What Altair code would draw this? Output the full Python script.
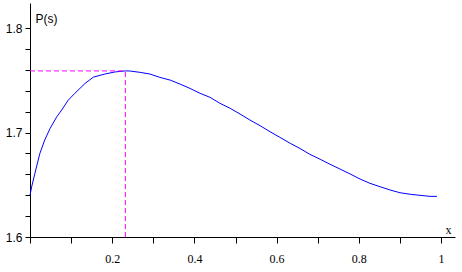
import altair as alt
import pandas as pd

# curve P(s)
xs = [0.0, 0.004, 0.012, 0.024, 0.036, 0.049, 0.065, 0.077, 0.093, 0.109, 0.134, 0.154,
      0.182, 0.207, 0.232, 0.243, 0.268, 0.292, 0.316, 0.341, 0.365, 0.389, 0.414, 0.438,
      0.462, 0.487, 0.511, 0.535, 0.560, 0.584, 0.608, 0.633, 0.657, 0.681, 0.706, 0.730,
      0.754, 0.779, 0.803, 0.827, 0.852, 0.876, 0.900, 0.925, 0.949, 0.973, 0.990]
ps = [1.640, 1.648, 1.661, 1.680, 1.693, 1.704, 1.715, 1.7215, 1.731, 1.7375, 1.747, 1.753,
      1.756, 1.758, 1.759, 1.7589, 1.7576, 1.756, 1.7528, 1.7502, 1.7464, 1.7423, 1.7375, 1.7337,
      1.728, 1.7232, 1.7177, 1.712, 1.7065, 1.7008, 1.6954, 1.6897, 1.6847, 1.6791, 1.6744, 1.6696,
      1.6651, 1.6603, 1.6555, 1.6514, 1.6481, 1.6450, 1.6424, 1.6409, 1.6399, 1.6389, 1.6389]

peak_x = [0.232]
peak_p = [1.759]
base_p = [1.6]
start_x = [0.0]

x_ticks = [0.0, 0.1, 0.2, 0.3, 0.4, 0.5, 0.6, 0.7, 0.8, 0.9, 1.0]
y_ticks = [1.6, 1.62, 1.64, 1.66, 1.68, 1.7, 1.72, 1.74, 1.76, 1.78, 1.8]

curve = pd.DataFrame({"x": xs, "p": ps})
peak = pd.DataFrame({"x0": start_x, "x": peak_x, "p": peak_p, "p0": base_p})

xscale = alt.Scale(domain=[0, 1.034], nice=False, zero=False)
yscale = alt.Scale(domain=[1.6, 1.824], nice=False, zero=False)

xaxis = alt.Axis(
    values=x_ticks,
    labelExpr="(datum.value > 0 && test(regexp('[02468]$'), format(datum.value, '.1f'))) ? format(datum.value, '~g') : ''",
    grid=False, domainColor="black", tickColor="black", tickSize=6, tickWidth=1,
    domainWidth=1, labelFont="Liberation Serif", labelFontSize=12, labelColor="black",
    labelPadding=10, labelOverlap=False, labelBound=False, labelFlush=False,
    title="x", titleFont="Liberation Serif", titleFontSize=12, titleFontWeight="normal",
    titleColor="black", titleX=418, titleY=-4, titleAlign="center", titleBaseline="alphabetic",
)
yaxis = alt.Axis(
    values=y_ticks,
    labelExpr="test(regexp('0$'), format(datum.value, '.2f')) ? format(datum.value, '.1f') : ''",
    grid=False, domainColor="black", tickColor="black", tickSize=5, tickWidth=1,
    domainWidth=1, labelFont="Liberation Sans", labelFontSize=12, labelColor="black",
    labelPadding=3, labelOverlap=False, labelBound=False, labelFlush=False,
    title="P(s)", titleFont="Liberation Sans", titleFontSize=12, titleFontWeight="normal",
    titleColor="black", titleAngle=0, titleX=5, titleY=19, titleAlign="left",
    titleBaseline="alphabetic",
)

line = alt.Chart(curve).mark_line(color="#0000ff", strokeWidth=1).encode(
    x=alt.X("x:Q", scale=xscale, axis=xaxis),
    y=alt.Y("p:Q", scale=yscale, axis=yaxis),
)

hdash = alt.Chart(peak).mark_rule(color="#ff00ff", strokeWidth=1, strokeDash=[5, 3]).encode(
    x=alt.X("x0:Q", scale=xscale, axis=xaxis), x2="x:Q", y=alt.Y("p:Q", scale=yscale, axis=yaxis)
)
vdash = alt.Chart(peak).mark_rule(color="#ff00ff", strokeWidth=1, strokeDash=[5, 3]).encode(
    x=alt.X("x:Q", scale=xscale, axis=xaxis), y=alt.Y("p0:Q", scale=yscale, axis=yaxis), y2="p:Q"
)

chart = alt.layer(line, hdash, vdash).properties(
    width=425, height=234,
    padding={"left": 30, "top": 3, "right": 7, "bottom": 35},
    autosize=alt.AutoSizeParams(type="none"),
    background="white",
).configure_view(stroke=None)

chart.save("out.html", embed_options={"renderer": "svg", "actions": False})
